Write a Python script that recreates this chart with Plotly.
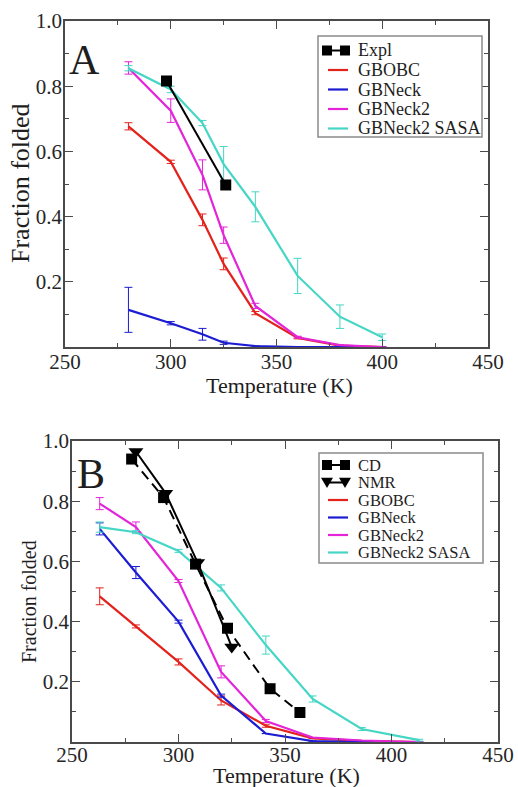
import plotly.graph_objects as go

# ---------------- Data: panel A ----------------
temps_a = [280, 300, 315, 325, 340, 360, 380, 400]
gbobc_a = [0.677, 0.568, 0.39, 0.255, 0.104, 0.028, 0.004, 0.0]
gbobc_a_err = [0.011, 0.005, 0.018, 0.018, 0.005, 0.003, 0.0, 0.0]
gbneck_a = [0.114, 0.073, 0.039, 0.013, 0.003, 0.0, 0.0, 0.0]
gbneck_a_err = [0.069, 0.005, 0.018, 0.005, 0.0, 0.0, 0.0, 0.0]
gbneck2_a = [0.856, 0.725, 0.528, 0.343, 0.126, 0.03, 0.006, 0.0]
gbneck2_a_err = [0.019, 0.036, 0.046, 0.025, 0.008, 0.003, 0.0, 0.0]
sasa_a = [0.855, 0.79, 0.687, 0.561, 0.43, 0.218, 0.093, 0.03]
sasa_a_err = [0.008, 0.01, 0.008, 0.054, 0.046, 0.054, 0.036, 0.01]
expl_t = [298, 326]
expl_f = [0.816, 0.497]

# ---------------- Data: panel B ----------------
temps_b = [263, 280, 300, 320, 341, 363, 386, 413]
gbobc_b = [0.484, 0.384, 0.266, 0.138, 0.054, 0.012, 0.004, 0.0]
gbobc_b_err = [0.028, 0.005, 0.01, 0.015, 0.005, 0.0, 0.0, 0.0]
gbneck_b = [0.708, 0.563, 0.40, 0.154, 0.028, 0.003, 0.0, 0.0]
gbneck_b_err = [0.02, 0.02, 0.005, 0.005, 0.0, 0.0, 0.0, 0.0]
gbneck2_b = [0.792, 0.714, 0.535, 0.233, 0.07, 0.015, 0.005, 0.0]
gbneck2_b_err = [0.02, 0.017, 0.005, 0.02, 0.005, 0.0, 0.0, 0.0]
sasa_b = [0.714, 0.697, 0.635, 0.512, 0.322, 0.143, 0.043, 0.006]
sasa_b_err = [0.017, 0.005, 0.005, 0.01, 0.03, 0.01, 0.005, 0.003]
cd_t = [278, 293, 308, 323, 343, 357]
cd_f = [0.94, 0.812, 0.591, 0.378, 0.177, 0.098]
nmr_t = [280, 294, 309, 325]
nmr_f = [0.965, 0.826, 0.596, 0.316]

# tick labels
x_ticks = [250, 300, 350, 400, 450]
y_ticks = [0.0, 0.2, 0.4, 0.6, 0.8, 1.0]
y_ticklabels = ["", "0.2", "0.4", "0.6", "0.8", "1.0"]

# ---------------- Styles ----------------
W, H = 518, 787
RED = "#e3221c"
BLUE = "#1c1cd2"
MAG = "#e424d8"
CYAN = "#45d6c6"
BLACK = "#000000"
FRAME = "#4a4a4a"
SERIF = "Times New Roman, Liberation Serif, Times, serif"


def px(x):
    return x / W


def py(y):
    return 1 - y / H


fig = go.Figure()


def add_series(t, f, err, color, xa, ya):
    fig.add_trace(go.Scatter(
        x=t, y=f, mode="lines", line=dict(color=color, width=2.2),
        error_y=dict(type="data", array=err, color=color, thickness=1, width=4),
        xaxis=xa, yaxis=ya, showlegend=False, cliponaxis=False))


# Panel A
add_series(temps_a, gbobc_a, gbobc_a_err, RED, "x", "y")
add_series(temps_a, gbneck_a, gbneck_a_err, BLUE, "x", "y")
add_series(temps_a, gbneck2_a, gbneck2_a_err, MAG, "x", "y")
add_series(temps_a, sasa_a, sasa_a_err, CYAN, "x", "y")
fig.add_trace(go.Scatter(
    x=expl_t, y=expl_f, mode="lines+markers",
    line=dict(color=BLACK, width=2),
    marker=dict(symbol="square", size=11, color=BLACK),
    xaxis="x", yaxis="y", showlegend=False))

# Panel B
add_series(temps_b, gbobc_b, gbobc_b_err, RED, "x2", "y2")
add_series(temps_b, gbneck_b, gbneck_b_err, BLUE, "x2", "y2")
add_series(temps_b, gbneck2_b, gbneck2_b_err, MAG, "x2", "y2")
add_series(temps_b, sasa_b, sasa_b_err, CYAN, "x2", "y2")
fig.add_trace(go.Scatter(
    x=cd_t, y=cd_f, mode="lines+markers",
    line=dict(color=BLACK, width=2, dash="10px,6px"),
    marker=dict(symbol="square", size=11, color=BLACK),
    xaxis="x2", yaxis="y2", showlegend=False))
fig.add_trace(go.Scatter(
    x=nmr_t, y=nmr_f, mode="lines+markers",
    line=dict(color=BLACK, width=2),
    marker=dict(symbol="triangle-down", size=13, color=BLACK),
    xaxis="x2", yaxis="y2", showlegend=False))

axis_common = dict(
    showline=True, linecolor=FRAME, linewidth=1.5, mirror="allticks",
    ticks="inside", ticklen=8, tickwidth=1.2, tickcolor=FRAME,
    showgrid=False, zeroline=False, automargin=False,
    tickfont=dict(family=SERIF, size=21, color="#262626"),
)


def xaxis(domain, anchor, standoff):
    return dict(axis_common, domain=domain, anchor=anchor, range=[250, 450],
                tickmode="array", tickvals=x_ticks,
                ticktext=[str(v) for v in x_ticks], ticklabelstandoff=standoff,
                minor=dict(ticks="inside", ticklen=4, tickwidth=1,
                           tickcolor=FRAME, tickmode="array",
                           tickvals=[275, 325, 375, 425]))


def yaxis(domain, anchor):
    return dict(axis_common, domain=domain, anchor=anchor, range=[0, 1],
                tickmode="array", tickvals=y_ticks, ticktext=y_ticklabels,
                ticklabelstandoff=-3,
                minor=dict(ticks="inside", ticklen=4, tickwidth=1,
                           tickcolor=FRAME, tickmode="array",
                           tickvals=[0.1, 0.3, 0.5, 0.7, 0.9]))


# pixel geometry of the two plot areas
A_L, A_R, A_T, A_B = 65, 488, 21, 347
B_L, B_R, B_T, B_B = 72, 498, 441, 742

shapes = []
annotations = []


def text(x, y, s, size, angle=0, xanchor="center"):
    annotations.append(dict(
        x=px(x), y=py(y), xref="paper", yref="paper", text=s,
        showarrow=False, xanchor=xanchor, yanchor="middle", textangle=angle,
        font=dict(family=SERIF, size=size, color="#1e1e1e")))


# axis titles and panel letters
text(279, 385, "Temperature (K)", 22)
text(21, 183, "Fraction folded", 26, angle=-90)
text(286, 775, "Temperature (K)", 22)
text(29, 602, "Fraction folded", 20, angle=-90)
text(84, 60, "A", 42)
text(91, 474, "B", 42)


# ---------------- Legends (drawn in paper space) ----------------
def legend_box(x0, y0, x1, y1):
    shapes.append(dict(type="rect", xref="paper", yref="paper",
                       x0=px(x0), x1=px(x1), y0=py(y1), y1=py(y0),
                       line=dict(color="#8a8a8a", width=1.5),
                       fillcolor="white", layer="above"))


def legend_line(y, color, dash="solid"):
    shapes.append(dict(type="line", xref="paper", yref="paper",
                       x0=px(328), x1=px(348), y0=py(y), y1=py(y),
                       line=dict(color=color, width=2.2, dash=dash),
                       layer="above"))


def legend_square(cx, cy, s=5):
    shapes.append(dict(type="rect", xref="paper", yref="paper",
                       x0=px(cx - s), x1=px(cx + s), y0=py(cy + s), y1=py(cy - s),
                       line=dict(width=0), fillcolor=BLACK, layer="above"))


def legend_tri(cx, cy, s=6):
    path = "M {},{} L {},{} L {},{} Z".format(
        px(cx - s), py(cy - s * 0.8), px(cx + s), py(cy - s * 0.8),
        px(cx), py(cy + s * 0.9))
    shapes.append(dict(type="path", xref="paper", yref="paper", path=path,
                       line=dict(width=0), fillcolor=BLACK, layer="above"))


def legend_sym_line(y, kind):
    shapes.append(dict(type="line", xref="paper", yref="paper",
                       x0=px(327), x1=px(345), y0=py(y), y1=py(y),
                       line=dict(color=BLACK, width=2), layer="above"))
    if kind == "square":
        legend_square(327, y)
        legend_square(345, y)
    else:
        legend_tri(327, y)
        legend_tri(345, y)


# Legend A
legend_box(318, 36, 482, 137)
rows_a = [("Expl", None), ("GBOBC", RED), ("GBNeck", BLUE),
          ("GBNeck2", MAG), ("GBNeck2 SASA", CYAN)]
for i, (lab, col) in enumerate(rows_a):
    y = 50.5 + 19.5 * i
    if col is None:
        legend_sym_line(y, "square")
    else:
        legend_line(y, col)
    text(356, y, lab, 18, xanchor="left")

# Legend B
legend_box(319, 453, 483, 563)
rows_b = [("CD", "square"), ("NMR", "tri"), ("GBOBC", RED), ("GBNeck", BLUE),
          ("GBNeck2", MAG), ("GBNeck2 SASA", CYAN)]
for i, (lab, col) in enumerate(rows_b):
    y = 465 + 17.5 * i
    if col in ("square", "tri"):
        legend_sym_line(y, col)
    else:
        legend_line(y, col)
    text(356, y, lab, 16.5, xanchor="left")

fig.update_layout(
    width=W, height=H,
    margin=dict(l=0, r=0, t=0, b=0),
    paper_bgcolor="white", plot_bgcolor="white",
    showlegend=False,
    xaxis=xaxis([px(A_L), px(A_R)], "y", -5),
    yaxis=yaxis([py(A_B), py(A_T)], "x"),
    xaxis2=xaxis([px(B_L), px(B_R)], "y2", -7),
    yaxis2=yaxis([py(B_B), py(B_T)], "x2"),
    shapes=shapes,
    annotations=annotations,
)

fig.write_html("out.html")
